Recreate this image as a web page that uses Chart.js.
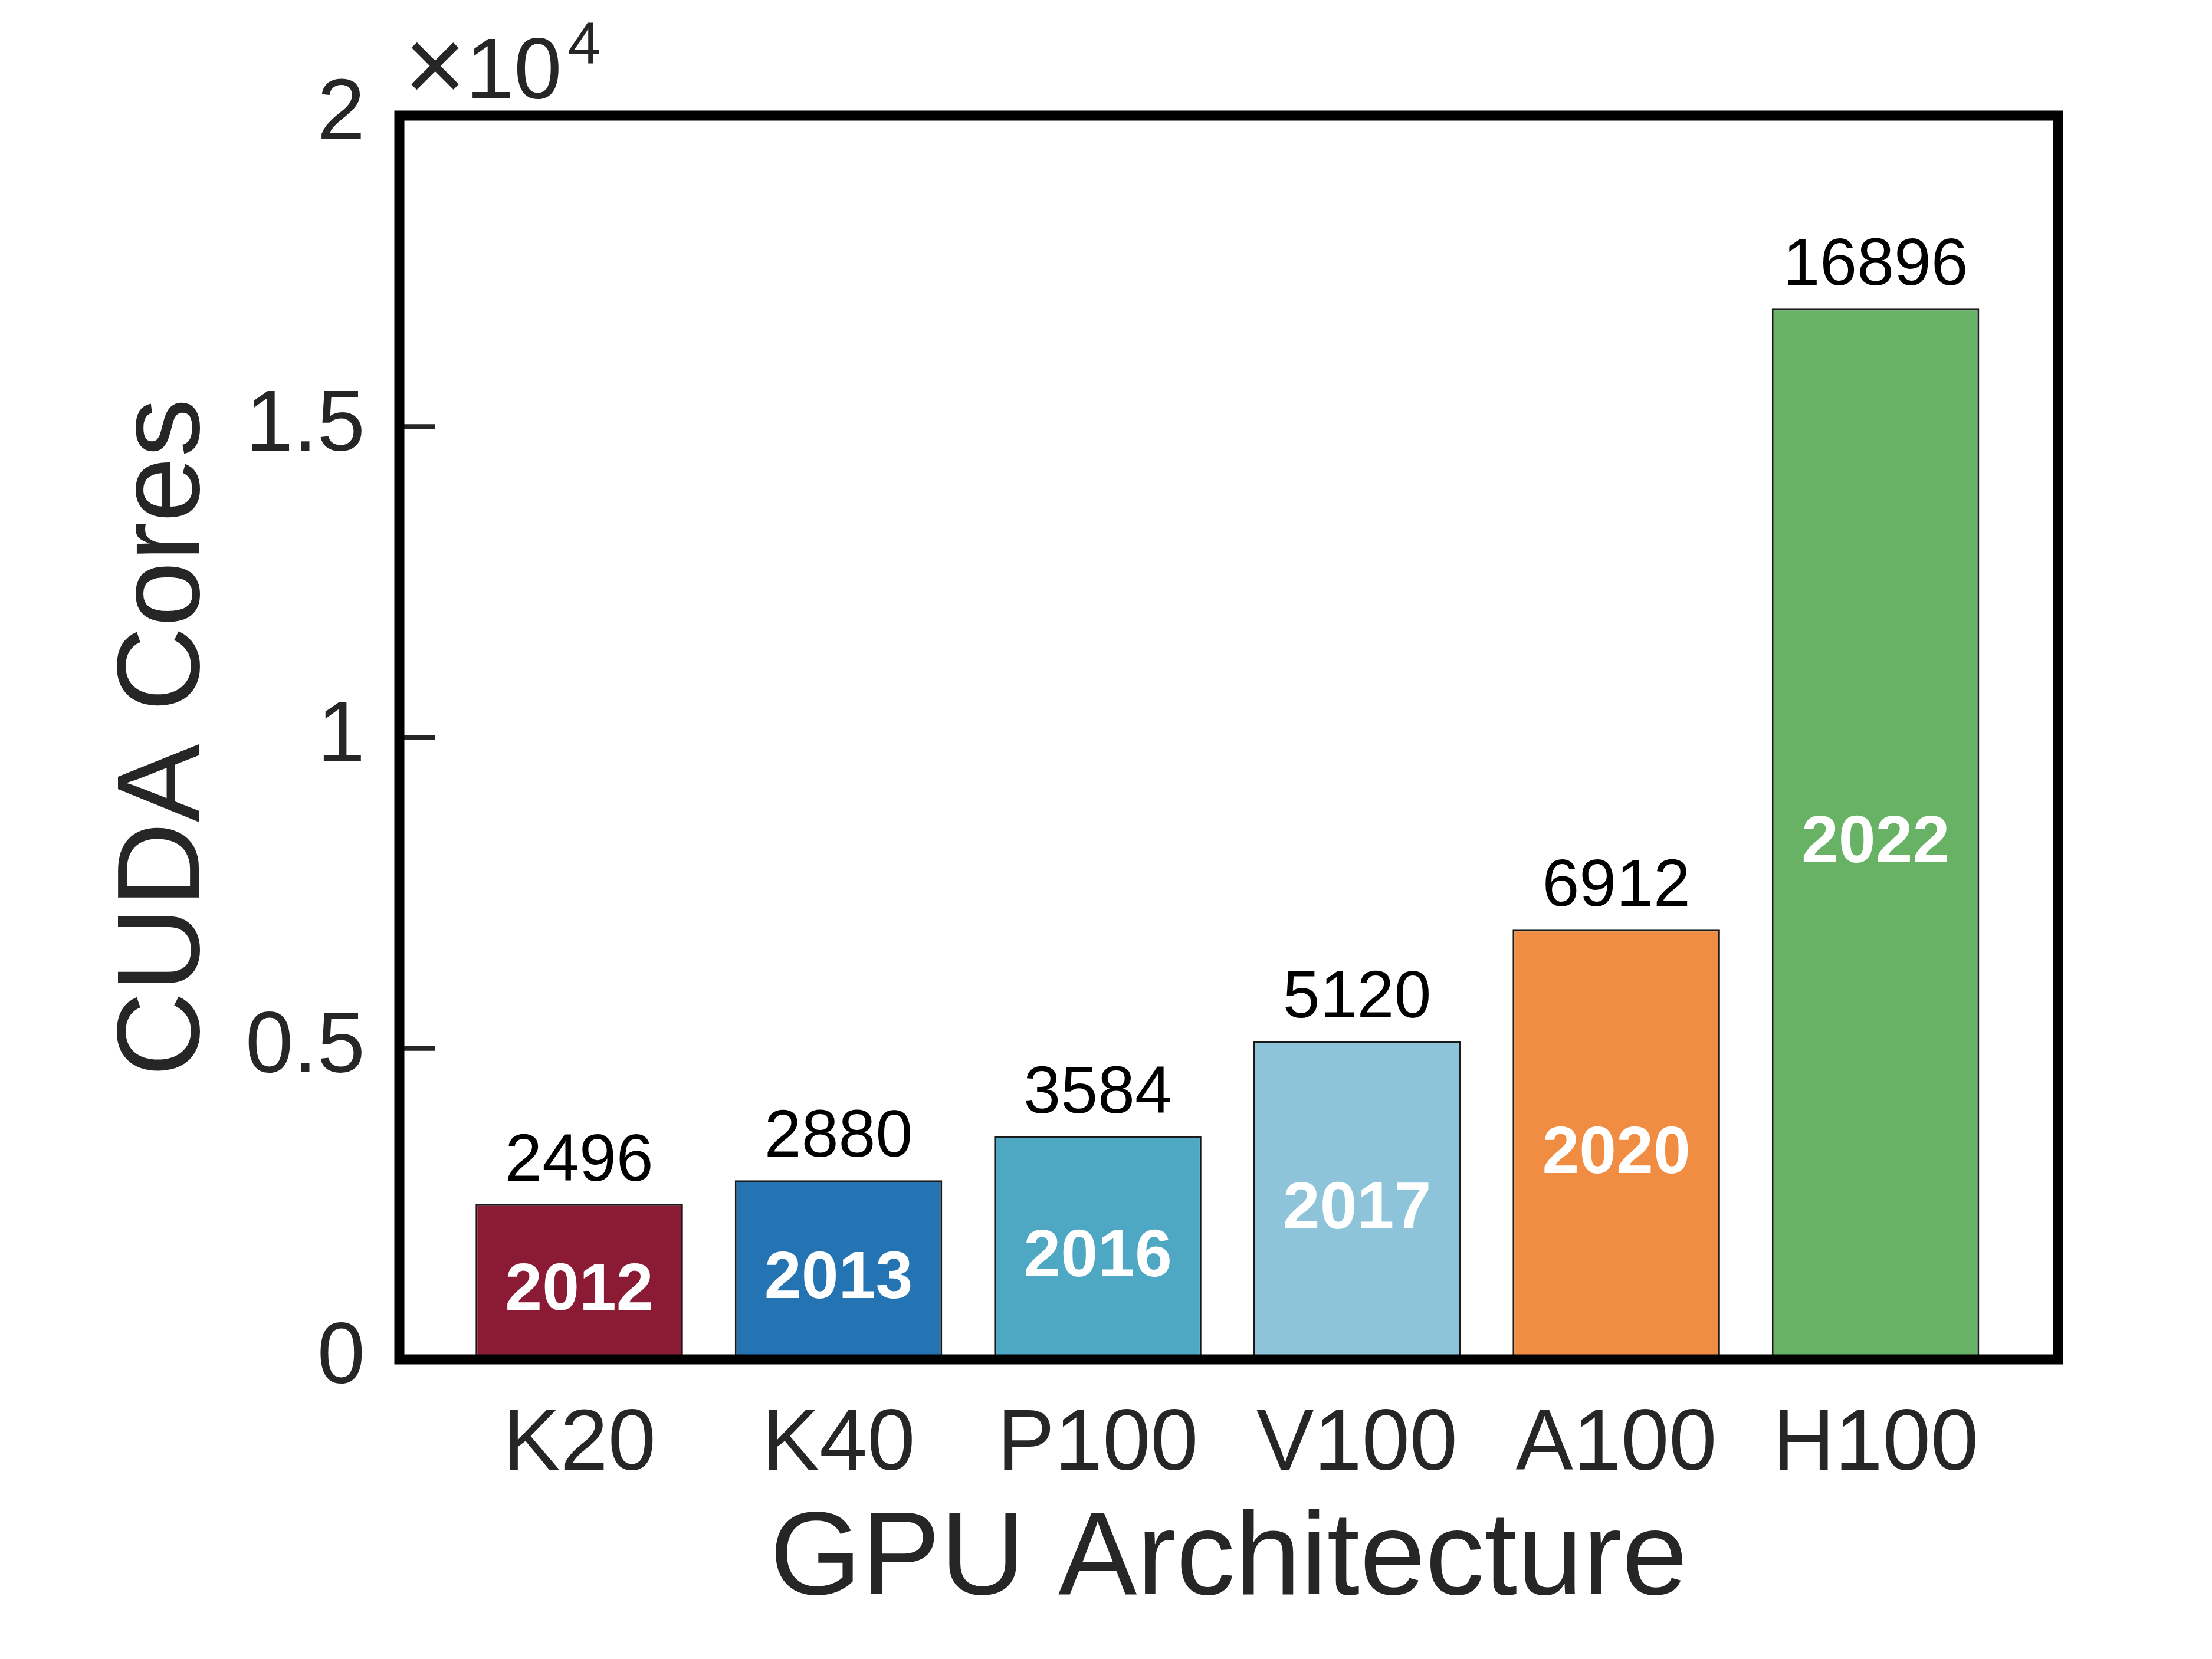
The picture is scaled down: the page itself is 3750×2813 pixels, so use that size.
<!DOCTYPE html>
<html>
<head>
<meta charset="utf-8">
<script src="https://cdn.jsdelivr.net/npm/chart.js@4.4.1/dist/chart.umd.min.js"></script>
<style>
  html, body { margin: 0; padding: 0; background: #ffffff; }
  #wrap { width: 3750px; height: 2813px; position: relative; }
</style>
</head>
<body>
<div id="wrap"><canvas id="chart" width="3750" height="2813"></canvas></div>
<script>
// GPU architectures and their CUDA core counts
const gpuLabels = ['K20', 'K40', 'P100', 'V100', 'A100', 'H100'];
const cudaCores = [2496, 2880, 3584, 5120, 6912, 16896];
const releaseYears = ['2012', '2013', '2016', '2017', '2020', '2022'];
const barColors = ['#8B1A34', '#2473B3', '#4EA7C3', '#8EC4D9', '#F18D43', '#68B266'];
const yTicks = [0, 5000, 10000, 15000, 20000];

const textDark = '#262626';
const fontFamily = '"Liberation Sans", Arial, Helvetica, sans-serif';

// frame, inward ticks, value/year labels and the x10^4 multiplier
const annotations = {
  id: 'annotations',
  afterDatasetsDraw(chart) {
    const { ctx, chartArea: area, scales } = chart;
    const meta = chart.getDatasetMeta(0);
    ctx.save();

    // labels on / above bars
    meta.data.forEach((bar, i) => {
      ctx.textAlign = 'center';
      ctx.textBaseline = 'alphabetic';
      ctx.fillStyle = '#000000';
      ctx.font = '113px ' + fontFamily;
      ctx.fillText(String(cudaCores[i]), bar.x, bar.y - 40);

      // year sits in the middle of the bar
      ctx.fillStyle = '#ffffff';
      ctx.font = 'bold 113px ' + fontFamily;
      ctx.fillText(releaseYears[i], bar.x, scales.y.getPixelForValue(cudaCores[i] / 2) + 48);
    });

    // inward tick marks on the left axis
    ctx.strokeStyle = textDark;
    ctx.lineWidth = 8;
    yTicks.slice(1, -1).forEach(v => {
      const py = scales.y.getPixelForValue(v);
      ctx.beginPath();
      ctx.moveTo(area.left, py);
      ctx.lineTo(area.left + 60, py);
      ctx.stroke();
    });

    // box frame
    ctx.strokeStyle = '#000000';
    ctx.lineWidth = 17;
    ctx.lineJoin = 'miter';
    ctx.strokeRect(area.left, area.top, area.right - area.left, area.bottom - area.top);

    // exponent label
    ctx.fillStyle = textDark;
    ctx.textAlign = 'left';
    ctx.textBaseline = 'alphabetic';
    const x0 = area.left + 8;
    ctx.font = '180px ' + fontFamily;
    ctx.fillText('\u00D7', x0, 172);
    let x1 = x0 + ctx.measureText('\u00D7').width;
    ctx.font = '146px ' + fontFamily;
    ctx.fillText('10', x1, 167);
    x1 += ctx.measureText('10').width;
    ctx.font = '100px ' + fontFamily;
    ctx.fillText('4', x1 + 10, 108);

    ctx.restore();
  }
};

const ctx = document.getElementById('chart').getContext('2d');
new Chart(ctx, {
  type: 'bar',
  data: {
    datasets: [{
      data: cudaCores.map((v, i) => ({ x: i + 1, y: v })),
      backgroundColor: barColors,
      borderColor: '#1a1a1a',
      borderWidth: 3,
      barPercentage: 0.8,
      categoryPercentage: 1.0
    }]
  },
  options: {
    responsive: false,
    animation: false,
    devicePixelRatio: 1,
    layout: { padding: { top: 196, right: 261, left: 0, bottom: 0 } },
    plugins: {
      legend: { display: false },
      tooltip: { enabled: false }
    },
    scales: {
      x: {
        type: 'linear',
        offset: false,
        min: 0.306,
        max: 6.704,
        grid: { display: false },
        border: { display: false },
        afterBuildTicks: (scale) => {
          scale.ticks = gpuLabels.map((_, i) => ({ value: i + 1 }));
        },
        afterFit: (scale) => { scale.height = 508; },
        ticks: {
          autoSkip: false,
          maxRotation: 0,
          padding: 51,
          color: textDark,
          font: { family: fontFamily, size: 146 },
          callback: (value) => gpuLabels[Math.round(value) - 1] || ''
        },
        title: {
          display: true,
          text: 'GPU Architecture',
          color: textDark,
          font: { family: fontFamily, size: 200 },
          padding: { top: 45, bottom: 45 }
        }
      },
      y: {
        min: 0,
        max: 20000,
        grid: { display: false },
        border: { display: false },
        afterBuildTicks: (scale) => {
          scale.ticks = yTicks.map(v => ({ value: v }));
        },
        afterFit: (scale) => { scale.width = 677; },
        ticks: {
          padding: 50,
          color: textDark,
          font: { family: fontFamily, size: 146 },
          callback: (value) => String(value / 10000)
        },
        title: {
          display: true,
          text: 'CUDA Cores',
          color: textDark,
          font: { family: fontFamily, size: 199 },
          padding: { top: 163, bottom: 163 }
        }
      }
    }
  },
  plugins: [annotations]
});
</script>
</body>
</html>
